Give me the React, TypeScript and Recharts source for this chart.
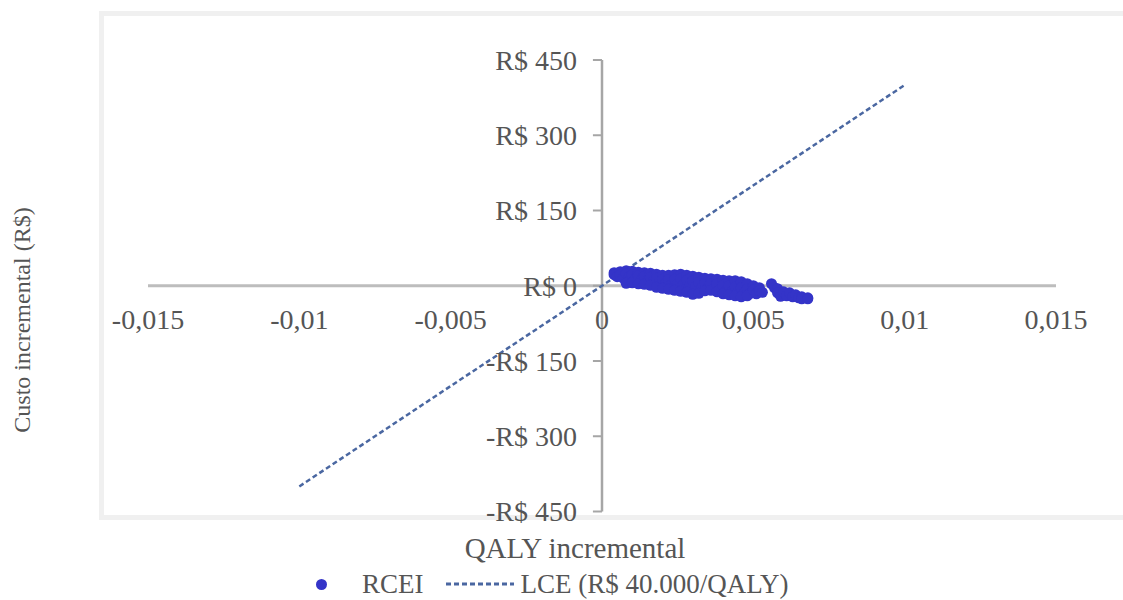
import React from "react"
import {
  ReferenceDot,
  ReferenceLine,
  Scatter,
  ScatterChart,
  XAxis,
  YAxis,
  Legend,
} from "recharts"

// RCEI simulations (QALY incremental, custo incremental R$)
const rceiQaly = [
  0.0004, 0.0004, 0.0005,
  0.0006, 0.0006, 0.0007,
  0.0008, 0.0008, 0.0009, 0.0009, 0.0008,
  0.001, 0.001, 0.0011, 0.001,
  0.0012, 0.0012, 0.0013, 0.0012,
  0.0014, 0.0014, 0.0015, 0.0014,
  0.0016, 0.0016, 0.0017, 0.0016,
  0.0018, 0.0018, 0.0019, 0.0018,
  0.002, 0.002, 0.0021, 0.002,
  0.0022, 0.0022, 0.0023, 0.0022,
  0.0024, 0.0024, 0.0025, 0.0024,
  0.0026, 0.0026, 0.0027, 0.0026,
  0.0028, 0.0028, 0.0029, 0.0028,
  0.003, 0.003, 0.0031, 0.003,
  0.0032, 0.0032, 0.0033, 0.0032,
  0.0034, 0.0034, 0.0035, 0.0034,
  0.0036, 0.0036, 0.0037, 0.0036,
  0.0038, 0.0038, 0.0039, 0.0038,
  0.004, 0.004, 0.0041, 0.004,
  0.0042, 0.0042, 0.0043, 0.0042,
  0.0044, 0.0044, 0.0045, 0.0044,
  0.0046, 0.0046, 0.0047, 0.0046,
  0.0048, 0.0048, 0.0049, 0.0048,
  0.005, 0.005, 0.0051,
  0.0052, 0.0052, 0.0053,
  0.0056, 0.0057,
  0.0058, 0.0058, 0.0059,
  0.006, 0.0061,
  0.0062, 0.0063,
  0.0064, 0.0065,
  0.0066, 0.0066,
  0.0068, 0.0068,
]

const rceiCusto = [
  26, 22, 18,
  28, 22, 15,
  30, 24, 17, 10, 5,
  29, 22, 14, 6,
  27, 20, 12, 4,
  26, 19, 11, 3,
  25, 17, 9, 1,
  23, 15, 6, -3,
  21, 13, 5, -5,
  21, 12, 3, -7,
  22, 13, 4, -9,
  23, 14, 3, -11,
  21, 11, 0, -13,
  19, 9, -2, -17,
  17, 7, -4, -15,
  15, 5, -5, -10,
  14, 4, -6, -9,
  13, 3, -8, -12,
  11, 1, -10, -16,
  10, 0, -11, -18,
  10, -2, -13, -20,
  8, -4, -14, -22,
  4, -6, -15, -20,
  0, -8, -16,
  -4, -10, -13,
  4, -4,
  -6, -14, -21,
  -12, -20,
  -14, -22,
  -18, -24,
  -22, -26,
  -24, -26,
]

// Limiar de custo-efetividade: R$ 40.000/QALY
const lceQaly = [-0.01, 0.01]
const lceCusto = [-400, 400]

const xTicks = [-0.015, -0.01, -0.005, 0, 0.005, 0.01, 0.015]
const xTickLabels = ["-0,015", "-0,01", "-0,005", "0", "0,005", "0,01", "0,015"]
const yTicks = [450, 300, 150, 0, -150, -300, -450]
const yTickLabels = ["R$ 450", "R$ 300", "R$ 150", "R$ 0", "-R$ 150", "-R$ 300", "-R$ 450"]

const rceiData = rceiQaly.map((x, i) => ({ x, y: rceiCusto[i] }))
const lceData = lceQaly.map((x, i) => ({ x, y: lceCusto[i] }))

const FONT = "'Liberation Serif', 'Times New Roman', serif"
const TEXT = "#555555"
const DOT = "#3434c8"
const LCE = "#4a67a1"
const TICK_LEN = 0.0003

const labelStyle = { fill: TEXT, fontSize: 28, fontFamily: FONT }

function LegendContent() {
  return (
    <div
      style={{
        display: "flex",
        alignItems: "center",
        paddingLeft: 316,
        fontFamily: FONT,
        fontSize: 27,
        color: TEXT,
        lineHeight: "30px",
        height: 30,
      }}
    >
      <span style={{ width: 11, height: 11, borderRadius: "50%", background: DOT, display: "inline-block" }} />
      <span style={{ marginLeft: 35 }}>RCEI</span>
      <svg width={68} height={10} style={{ marginLeft: 22 }}>
        <line x1={0} y1={5} x2={68} y2={5} stroke={LCE} strokeWidth={3} strokeDasharray="5 3" />
      </svg>
      <span style={{ marginLeft: 7 }}>LCE (R$ 40.000/QALY)</span>
    </div>
  )
}

export default function App() {
  return (
    <div
      style={{
        position: "fixed",
        left: 0,
        top: 0,
        width: 1123,
        height: 600,
        overflow: "hidden",
        background: "#fff",
        fontFamily: FONT,
      }}
    >
      <div
        style={{
          position: "absolute",
          left: 99,
          top: 11,
          width: 1100,
          height: 499,
          border: "5px solid #f0f0f0",
        }}
      />
      <div style={{ position: "absolute", left: 0, top: 0 }}>
        <ScatterChart
          width={1123}
          height={600}
          margin={{ top: 60, right: 67, bottom: 88.5, left: 148 }}
          style={{ fontFamily: FONT }}
        >
          <XAxis type="number" dataKey="x" domain={[-0.015, 0.015]} hide allowDataOverflow />
          <YAxis type="number" dataKey="y" domain={[-450, 450]} hide allowDataOverflow />
          <ReferenceLine y={0} stroke="#bdbdbd" strokeWidth={3} />
          <ReferenceLine x={0} stroke="#a6a6a6" strokeWidth={2.5} />
          {yTicks.map((v) => (
            <ReferenceLine
              key={`yt${v}`}
              segment={[
                { x: -TICK_LEN, y: v },
                { x: 0, y: v },
              ]}
              stroke="#a6a6a6"
              strokeWidth={2}
            />
          ))}
          <Scatter
            name="LCE (R$ 40.000/QALY)"
            data={lceData}
            line={{ stroke: LCE, strokeWidth: 2.5, strokeDasharray: "5 3" }}
            shape={() => <g />}
            isAnimationActive={false}
          />
          <Scatter
            name="RCEI"
            data={rceiData}
            fill={DOT}
            shape={(p: any) => <circle cx={p.cx} cy={p.cy} r={5.5} fill={DOT} />}
            isAnimationActive={false}
          />
          {yTicks.map((v, i) => (
            <ReferenceDot
              key={`yl${v}`}
              x={0}
              y={v}
              r={0}
              stroke="none"
              label={{ value: yTickLabels[i], position: "left", offset: 25, ...labelStyle }}
            />
          ))}
          {xTicks.map((v, i) => (
            <ReferenceDot
              key={`xl${v}`}
              x={v}
              y={0}
              r={0}
              stroke="none"
              label={{ value: xTickLabels[i], position: "bottom", offset: 23, ...labelStyle }}
            />
          ))}
          <Legend
            layout="horizontal"
            verticalAlign="middle"
            align="center"
            content={() => <LegendContent />}
            wrapperStyle={{ left: 0, top: 569, width: 1123, height: 30 }}
          />
        </ScatterChart>
      </div>
      <div
        style={{
          position: "absolute",
          left: 375,
          top: 532,
          width: 400,
          textAlign: "center",
          fontSize: 29,
          lineHeight: "32px",
          color: TEXT,
        }}
      >
        QALY incremental
      </div>
      <div
        style={{
          position: "absolute",
          left: 22 - 200,
          top: 320 - 16,
          width: 400,
          height: 32,
          textAlign: "center",
          fontSize: 24,
          lineHeight: "32px",
          color: TEXT,
          transform: "rotate(-90deg)",
          transformOrigin: "50% 50%",
        }}
      >
        Custo incremental (R$)
      </div>
    </div>
  )
}
